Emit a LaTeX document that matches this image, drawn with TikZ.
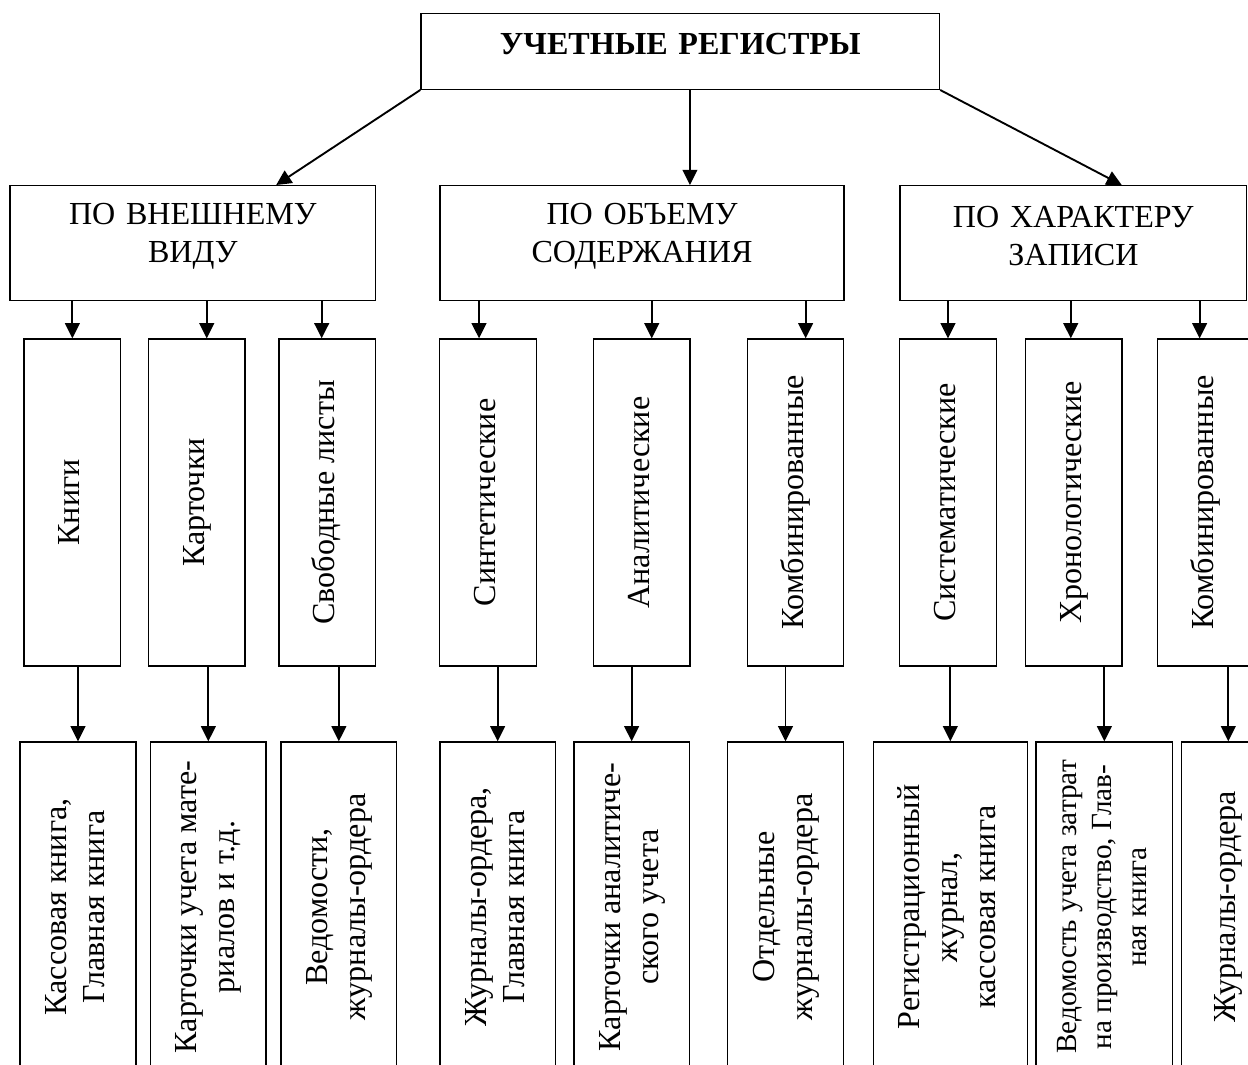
\documentclass[tikz,border=0pt]{standalone}
\usepackage{fontspec}
\setmainfont{Liberation Serif}
\usepackage{graphicx}
\usetikzlibrary{arrows.meta, positioning}

\newcommand{\rottext}[1]{\rotatebox{90}{\begin{tabular}{@{}c@{}}#1\end{tabular}}}

\begin{document}
\begin{tikzpicture}[
    x=0.4237pt, y=-0.4237pt,
    font=\fontsize{13.6}{16.1}\selectfont,
    >={Triangle[length=6.4pt, width=6.2pt]},
    arr/.style={->, line width=0.8pt},
    root/.style={
        rectangle,
        draw=black,
        line width=0.6pt,
        text width=219.7pt,
        minimum height=32.2pt,
        align=center,
        inner sep=0pt,
        font=\fontsize{13.6}{16.1}\selectfont\bfseries
    },
    group/.style={
        rectangle,
        draw=black,
        line width=0.6pt,
        text width=#1,
        minimum height=48.7pt,
        align=center,
        inner sep=0pt
    },
    kind/.style={
        rectangle,
        draw=black,
        line width=0.6pt,
        minimum width=40.9pt,
        minimum height=138.5pt,
        inner sep=0pt
    },
    sample/.style={
        rectangle,
        draw=black,
        line width=0.6pt,
        minimum width=#1,
        minimum height=139.8pt,
        inner sep=0pt
    },
    sample/.default=49pt
]

    \useasboundingbox (0,0) rectangle (1248,1065);
    \clip (0,0) rectangle (1248,1065);

    % Root
    \node (reg) [root] at (680.25,51.3) {УЧЕТНЫЕ РЕГИСТРЫ\vspace{6pt}};

    % Groups
    \node (vid) [group=154.9pt] at (192.85,243.2) {ПО ВНЕШНЕМУ\\ВИДУ\vspace{6pt}};
    \node (obem) [group=171.2pt] at (642,243.2) {ПО ОБЪЕМУ\\СОДЕРЖАНИЯ\vspace{6pt}};
    \node (zap) [group=146.9pt] at (1073.35,243.2) {ПО ХАРАКТЕРУ\\ЗАПИСИ\vspace{6pt}};

    % Kinds of registers
    \node (knigi) [kind] at (72.35,502.5) {\rottext{Книги}};
    \node (kart) [kind] at (196.85,502.5) {\rottext{Карточки}};
    \node (listy) [kind] at (327.35,502.5) {\rottext{Свободные листы}};
    \node (sint) [kind] at (488,502.5) {\rottext{Синтетические}};
    \node (anal) [kind] at (641.85,502.5) {\rottext{Аналитические}};
    \node (kombA) [kind] at (795.5,502.5) {\rottext{Комбинированные}};
    \node (sist) [kind] at (948,502.5) {\rottext{Систематические}};
    \node (hron) [kind] at (1073.85,502.5) {\rottext{Хронологические}};
    \node (kombB) [kind] at (1205.5,502.5) {\rottext{Комбинированные}};

    % Examples
    \node (kassa) [sample] at (78,907) {\rottext{Кассовая книга,\\Главная книга}};
    \node (kartmat) [sample] at (208.35,907) {\rottext{Карточки учета мате-\\риалов и т.д.}};
    \node (ved) [sample] at (338.85,907) {\rottext{Ведомости,\\журналы-ордера}};
    \node (zhur) [sample] at (497.65,907) {\rottext{Журналы-ордера,\\Главная книга}};
    \node (kartan) [sample] at (631.65,907) {\rottext{Карточки аналитиче-\\ского учета}};
    \node (otd) [sample] at (785.5,907) {\rottext{Отдельные\\журналы-ордера}};
    \node (regj) [sample=65.3pt] at (950.3,907) {\rottext{Регистрационный\\журнал,\\кассовая книга}};
    \node (vedz) [sample=57.9pt, font=\fontsize{12.4}{14.8}\selectfont] at (1104.35,907)
        {\rottext{Ведомость учета затрат\\на производство, Глав-\\ная книга}};
    \node (zhord) [sample=39.5pt] at (1228.3,907) {\rottext{Журналы-ордера}};

    % Root to groups
    \draw[arr] (reg.south west) -- ([xshift=35.3pt]vid.north);
    \draw[arr] ([xshift=4.1pt]reg.south) -- ([xshift=4.1pt]reg.south |- obem.north);
    \draw[arr] (reg.south east) -- ([xshift=20.5pt]zap.north);

    % Groups to kinds
    \draw[arr] (knigi.north |- vid.south) -- (knigi.north);
    \draw[arr] ([xshift=4.2pt]kart.north |- vid.south) -- ([xshift=4.2pt]kart.north);
    \draw[arr] ([xshift=-2.4pt]listy.north |- vid.south) -- ([xshift=-2.4pt]listy.north);
    \draw[arr] ([xshift=-3.8pt]sint.north |- obem.south) -- ([xshift=-3.8pt]sint.north);
    \draw[arr] ([xshift=4.2pt]anal.north |- obem.south) -- ([xshift=4.2pt]anal.north);
    \draw[arr] ([xshift=4.3pt]kombA.north |- obem.south) -- ([xshift=4.3pt]kombA.north);
    \draw[arr] (sist.north |- zap.south) -- (sist.north);
    \draw[arr] ([xshift=-1.3pt]hron.north |- zap.south) -- ([xshift=-1.3pt]hron.north);
    \draw[arr] ([xshift=-2.5pt]kombB.north |- zap.south) -- ([xshift=-2.5pt]kombB.north);

    % Kinds to examples
    \draw[arr] (kassa.north |- knigi.south) -- (kassa.north);
    \draw[arr] (kartmat.north |- kart.south) -- (kartmat.north);
    \draw[arr] (ved.north |- listy.south) -- (ved.north);
    \draw[arr] (zhur.north |- sint.south) -- (zhur.north);
    \draw[arr] (kartan.north |- anal.south) -- (kartan.north);
    \draw[arr] (otd.north |- kombA.south) -- (otd.north);
    \draw[arr] (regj.north |- sist.south) -- (regj.north);
    \draw[arr] (vedz.north |- hron.south) -- (vedz.north);
    \draw[arr] (zhord.north |- kombB.south) -- (zhord.north);

\end{tikzpicture}
\end{document}
